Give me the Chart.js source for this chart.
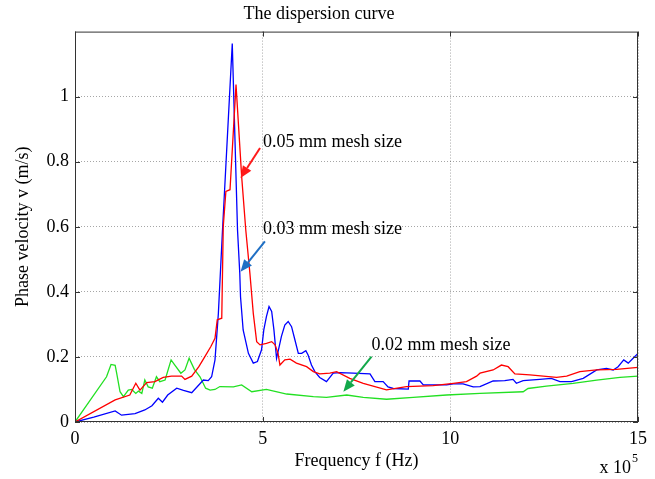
<!DOCTYPE html>
<html lang="en">
  <head>
    <meta charset="UTF-8" />
    <title>The dispersion curve</title>
    <script src="https://cdn.jsdelivr.net/npm/chart.js"></script>
    <style>
      html, body { margin: 0; padding: 0; background: #fff; }
      #wrap { position: relative; width: 655px; height: 479px; }
    </style>
  </head>
  <body>
    <div id="wrap"><canvas id="dispersionChart"></canvas></div>
    <script>
      // frequency (x 10^5 Hz) and phase velocity (m/s) for each mesh size
      const f05 = [0, 1.07, 1.46, 1.62, 1.73, 1.91, 2.13, 2.35, 2.57, 2.84, 2.93, 3.11, 3.30, 3.46, 3.62, 3.73, 3.79, 3.91, 3.95, 4.02, 4.13, 4.29, 4.44, 4.55, 4.66, 4.75, 4.84, 4.93, 5.10, 5.24, 5.33, 5.41, 5.46, 5.59, 5.73, 5.90, 6.17, 6.35, 6.52, 6.79, 6.97, 7.32, 7.68, 8.30, 8.83, 9.54, 10.08, 10.43, 10.70, 10.79, 11.14, 11.36, 11.54, 11.72, 12.12, 12.83, 13.10, 13.45, 13.90, 14.43, 15.0];
      const v05 = [0, 0.068, 0.083, 0.119, 0.098, 0.121, 0.124, 0.137, 0.141, 0.141, 0.131, 0.141, 0.170, 0.201, 0.232, 0.257, 0.314, 0.319, 0.600, 0.709, 0.714, 1.037, 0.755, 0.590, 0.457, 0.334, 0.247, 0.237, 0.242, 0.247, 0.237, 0.211, 0.175, 0.191, 0.193, 0.181, 0.170, 0.155, 0.148, 0.150, 0.155, 0.134, 0.119, 0.099, 0.109, 0.112, 0.119, 0.124, 0.141, 0.150, 0.160, 0.175, 0.170, 0.148, 0.145, 0.137, 0.141, 0.155, 0.160, 0.162, 0.168];

      const f03 = [0, 0.5, 1.07, 1.24, 1.60, 1.86, 2.05, 2.22, 2.33, 2.47, 2.71, 2.89, 3.11, 3.42, 3.55, 3.64, 3.73, 3.82, 3.93, 4.19, 4.33, 4.39, 4.41, 4.48, 4.62, 4.75, 4.86, 4.97, 5.03, 5.10, 5.17, 5.24, 5.30, 5.37, 5.44, 5.50, 5.59, 5.68, 5.77, 5.86, 5.95, 6.04, 6.15, 6.21, 6.30, 6.39, 6.52, 6.70, 6.88, 7.06, 7.41, 7.86, 7.99, 8.21, 8.34, 8.48, 8.88, 8.90, 9.19, 9.28, 9.90, 10.08, 10.34, 10.61, 10.79, 11.14, 11.45, 11.67, 11.76, 11.94, 12.38, 12.69, 12.92, 13.23, 13.54, 13.90, 14.16, 14.34, 14.47, 14.62, 14.74, 14.87, 15.0];
      const v03 = [0, 0.015, 0.034, 0.021, 0.026, 0.037, 0.050, 0.073, 0.061, 0.083, 0.104, 0.097, 0.090, 0.129, 0.127, 0.139, 0.191, 0.334, 0.590, 1.163, 0.590, 0.457, 0.385, 0.283, 0.211, 0.181, 0.186, 0.222, 0.283, 0.324, 0.355, 0.340, 0.283, 0.196, 0.232, 0.263, 0.298, 0.309, 0.293, 0.252, 0.211, 0.211, 0.219, 0.206, 0.175, 0.155, 0.137, 0.124, 0.150, 0.152, 0.150, 0.148, 0.124, 0.124, 0.108, 0.103, 0.101, 0.126, 0.126, 0.114, 0.114, 0.117, 0.117, 0.108, 0.109, 0.126, 0.127, 0.131, 0.119, 0.127, 0.131, 0.134, 0.124, 0.124, 0.134, 0.160, 0.165, 0.160, 0.170, 0.191, 0.181, 0.196, 0.211];

      const f02 = [0, 0.84, 0.96, 1.07, 1.11, 1.20, 1.29, 1.42, 1.51, 1.62, 1.69, 1.78, 1.86, 1.95, 2.06, 2.17, 2.26, 2.40, 2.56, 2.66, 2.82, 2.93, 3.04, 3.18, 3.33, 3.48, 3.60, 3.73, 3.86, 4.22, 4.44, 4.71, 5.10, 5.64, 6.35, 6.70, 7.24, 7.68, 8.30, 9.01, 9.90, 10.79, 11.94, 12.07, 12.56, 13.27, 13.90, 14.52, 15.0];
      const v02 = [0, 0.139, 0.177, 0.174, 0.150, 0.093, 0.078, 0.098, 0.100, 0.088, 0.095, 0.088, 0.129, 0.108, 0.104, 0.139, 0.124, 0.129, 0.191, 0.175, 0.150, 0.160, 0.196, 0.162, 0.139, 0.104, 0.098, 0.100, 0.109, 0.108, 0.114, 0.093, 0.100, 0.086, 0.078, 0.076, 0.083, 0.076, 0.070, 0.076, 0.083, 0.088, 0.093, 0.103, 0.110, 0.119, 0.129, 0.137, 0.141];

      const xTicks = [0, 5, 10, 15];
      const yTicks = [0, 0.2, 0.4, 0.6, 0.8, 1];

      const serif = '"Liberation Serif", "Times New Roman", serif';

      // callouts: label anchor, arrow tail and arrow head in data units
      const callouts = [
        { text: "0.05 mm mesh size", color: "#ff1a1a", at: [5.01, 0.86], from: [4.93, 0.842], to: [4.41, 0.75] },
        { text: "0.03 mm mesh size", color: "#1f6fc4", at: [5.01, 0.593], from: [5.06, 0.555], to: [4.41, 0.462] },
        { text: "0.02 mm mesh size", color: "#12a84a", at: [7.9, 0.237], from: [7.9, 0.201], to: [7.15, 0.093] },
      ];

      const pts = (fs, vs) => fs.map((f, i) => ({ x: f, y: vs[i] }));

      // frame box, inward ticks, callouts and the x10^5 exponent
      const decorations = {
        id: "decorations",
        afterDatasetsDraw(chart) {
          const { ctx, chartArea: a, scales } = chart;
          const sx = scales.x, sy = scales.y;
          ctx.save();

          ctx.strokeStyle = "#333";
          ctx.lineWidth = 1;
          ctx.strokeRect(a.left + 0.5, a.top + 0.5, a.right - a.left - 1, a.bottom - a.top - 1);
          ctx.beginPath();
          xTicks.forEach((t) => {
            const px = Math.round(sx.getPixelForValue(t)) + 0.5;
            ctx.moveTo(px, a.bottom); ctx.lineTo(px, a.bottom - 5);
            ctx.moveTo(px, a.top); ctx.lineTo(px, a.top + 5);
          });
          yTicks.forEach((t) => {
            const py = Math.round(sy.getPixelForValue(t)) + 0.5;
            ctx.moveTo(a.left, py); ctx.lineTo(a.left + 5, py);
            ctx.moveTo(a.right, py); ctx.lineTo(a.right - 5, py);
          });
          ctx.stroke();

          callouts.forEach((c) => {
            const x0 = sx.getPixelForValue(c.from[0]), y0 = sy.getPixelForValue(c.from[1]);
            const x1 = sx.getPixelForValue(c.to[0]), y1 = sy.getPixelForValue(c.to[1]);
            const ang = Math.atan2(y1 - y0, x1 - x0);
            const len = 12, half = 5;
            const bx = x1 - len * Math.cos(ang), by = y1 - len * Math.sin(ang);
            ctx.strokeStyle = c.color;
            ctx.fillStyle = c.color;
            ctx.lineWidth = 2;
            ctx.beginPath();
            ctx.moveTo(x0, y0); ctx.lineTo(bx, by);
            ctx.stroke();
            ctx.beginPath();
            ctx.moveTo(x1, y1);
            ctx.lineTo(bx + half * Math.sin(ang), by - half * Math.cos(ang));
            ctx.lineTo(bx - half * Math.sin(ang), by + half * Math.cos(ang));
            ctx.closePath();
            ctx.fill();

            ctx.fillStyle = "#000";
            ctx.font = "18px " + serif;
            ctx.textAlign = "left";
            ctx.textBaseline = "middle";
            ctx.fillText(c.text, sx.getPixelForValue(c.at[0]), sy.getPixelForValue(c.at[1]));
          });

          ctx.fillStyle = "#000";
          ctx.textAlign = "right";
          ctx.textBaseline = "alphabetic";
          ctx.font = "18px " + serif;
          ctx.fillText("x 10", a.right - 7, 473);
          ctx.textAlign = "left";
          ctx.font = "12px " + serif;
          ctx.fillText("5", a.right - 6, 462);
          ctx.restore();
        },
      };

      new Chart(document.getElementById("dispersionChart"), {
        type: "line",
        data: {
          datasets: [
            { label: "0.05 mm mesh size", data: pts(f05, v05), borderColor: "#ff0000" },
            { label: "0.03 mm mesh size", data: pts(f03, v03), borderColor: "#0000ff" },
            { label: "0.02 mm mesh size", data: pts(f02, v02), borderColor: "#22e022" },
          ],
        },
        options: {
          responsive: true,
          maintainAspectRatio: false,
          animation: false,
          parsing: false,
          datasets: { line: { pointRadius: 0, borderWidth: 1.3, tension: 0, fill: false } },
          layout: { padding: { left: 0, right: 17, top: 0, bottom: 0 } },
          plugins: {
            legend: { display: false },
            tooltip: { enabled: false },
            title: {
              display: true,
              text: "The dispersion curve",
              color: "#000",
              font: { family: serif, size: 18, weight: "normal" },
              padding: { top: 3, bottom: 7 },
            },
          },
          scales: {
            x: {
              type: "linear",
              min: 0,
              max: 15,
              afterBuildTicks: (s) => { s.ticks = xTicks.map((v) => ({ value: v })); },
              afterFit: (s) => { s.height = 57; },
              grid: { color: "rgba(0,0,0,0.35)", drawTicks: false, lineWidth: 1 },
              border: { display: false, dash: [1, 2] },
              ticks: { color: "#000", padding: 6, font: { family: serif, size: 18 } },
              title: {
                display: true,
                text: "Frequency f (Hz)",
                color: "#000",
                font: { family: serif, size: 18 },
                padding: { top: 0, bottom: 7 },
              },
            },
            y: {
              type: "linear",
              min: 0,
              max: 1.2,
              afterBuildTicks: (s) => { s.ticks = yTicks.map((v) => ({ value: v })); },
              afterFit: (s) => { s.width = 75; },
              grid: { color: "rgba(0,0,0,0.35)", drawTicks: false, lineWidth: 1 },
              border: { display: false, dash: [1, 2] },
              ticks: {
                color: "#000",
                padding: 6,
                font: { family: serif, size: 18 },
                callback: (v) => String(+v.toFixed(1)),
              },
              title: {
                display: true,
                text: "Phase velocity v (m/s)",
                color: "#000",
                font: { family: serif, size: 18 },
                padding: { top: 12, bottom: 0 },
              },
            },
          },
        },
        plugins: [decorations],
      });
    </script>
  </body>
</html>
